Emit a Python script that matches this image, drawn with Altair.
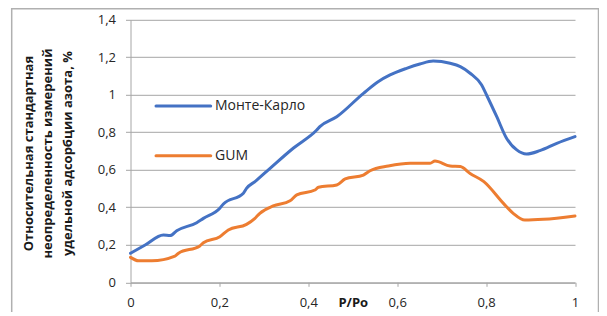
import altair as alt
import pandas as pd

# ---- data ----
mc_x = [0, 0.033, 0.074, 0.089, 0.104, 0.149, 0.164, 0.201, 0.209, 0.254, 0.261, 0.28,
        0.314, 0.366, 0.419, 0.426, 0.464, 0.524, 0.557, 0.584, 0.621, 0.651, 0.681,
        0.719, 0.742, 0.764, 0.79, 0.801, 0.824, 0.846, 0.869, 0.891, 0.921, 0.959, 1.0]
mc_y = [0.155, 0.199, 0.252, 0.249, 0.275, 0.318, 0.341, 0.395, 0.418, 0.475, 0.501, 0.537,
        0.608, 0.715, 0.812, 0.83, 0.883, 1.008, 1.07, 1.106, 1.141, 1.164, 1.18,
        1.168, 1.15, 1.115, 1.052, 0.999, 0.883, 0.768, 0.706, 0.684, 0.702, 0.741, 0.777]

gum_x = [0, 0.018, 0.048, 0.1, 0.108, 0.156, 0.164, 0.201, 0.22, 0.261, 0.28, 0.291,
         0.321, 0.359, 0.374, 0.415, 0.423, 0.464, 0.483, 0.524, 0.539, 0.58, 0.629,
         0.674, 0.685, 0.719, 0.742, 0.764, 0.795, 0.839, 0.861, 0.887, 0.929, 1.0]
gum_y = [0.133, 0.115, 0.115, 0.14, 0.155, 0.194, 0.211, 0.243, 0.279, 0.309, 0.341, 0.368,
         0.407, 0.435, 0.466, 0.492, 0.507, 0.519, 0.551, 0.572, 0.595, 0.62, 0.635,
         0.635, 0.647, 0.62, 0.617, 0.58, 0.537, 0.421, 0.368, 0.332, 0.336, 0.354]

series_names = ["Монте-Карло", "GUM"]
series_colors = ["#4472C4", "#ED7D31"]
y_ticks = [0, 0.2, 0.4, 0.6, 0.8, 1.0, 1.2, 1.4]
x_ticks = [0, 0.2, 0.4, 0.6, 0.8, 1.0]
y_title = ["Относительная стандартная", "неопределенность измерений",
           "удельной адсорбции азота, %"]
x_title = "P/Po"

rows = []
for xv, yv in zip(mc_x, mc_y):
    rows.append({"x": xv, "y": yv, "series": series_names[0]})
for xv, yv in zip(gum_x, gum_y):
    rows.append({"x": xv, "y": yv, "series": series_names[1]})
df = pd.DataFrame(rows)

FONT = "Open Sans"
W, H = 444.5, 262.5
GRID = "#a6a6a6"
comma_fmt = "replace(format(datum.value, '.1~f'), '.', ',')"

x_enc = alt.X(
    "x:Q",
    scale=alt.Scale(domain=[0, 1], nice=False, zero=False),
    axis=alt.Axis(values=x_ticks, grid=False, labelExpr=comma_fmt, title=x_title,
                  tickSize=4, labelPadding=10, titleY=24.5, titleBaseline="alphabetic",
                  titleFontWeight="bold", titleFontSize=13, labelFontSize=13,
                  labelFlush=False),
)
y_enc = alt.Y(
    "y:Q",
    scale=alt.Scale(domain=[0, 1.4], nice=False),
    axis=alt.Axis(values=y_ticks, grid=True, labelExpr=comma_fmt, title=y_title,
                  tickSize=5, labelPadding=10, titleFontWeight="bold", titleFontSize=13,
                  titleLineHeight=19.5, titleBaseline="middle", titleAngle=270,
                  titleX=-102.5, titleY=H / 2 + 2, labelFontSize=13),
)
color_enc = alt.Color("series:N", scale=alt.Scale(domain=series_names, range=series_colors),
                      legend=None)

lines = alt.Chart(df).mark_line(strokeWidth=3, interpolate="monotone", strokeCap="round",
                                strokeJoin="round").encode(
    x=x_enc, y=y_enc, color=color_enc, order=alt.Order("x:Q"))

frame = alt.Chart(pd.DataFrame({"a": [0]})).mark_rect(
    filled=False, stroke="#b0b0b0", strokeWidth=1.5).encode(
    x=alt.value(-118.8), x2=alt.value(468), y=alt.value(-11), y2=alt.value(300))

layers = [frame, lines]
legend_y = [86.2, 135.9]
for name, col, ly in zip(series_names, series_colors, legend_y):
    ldf = pd.DataFrame({"name": [name]})
    layers.append(alt.Chart(ldf).mark_rule(color=col, strokeWidth=3, strokeCap="round").encode(
        x=alt.value(25.5), x2=alt.value(80.2), y=alt.value(ly)))
    layers.append(alt.Chart(ldf).mark_text(align="left", baseline="middle", fontSize=14,
                                           font=FONT, color="#262626").encode(
        x=alt.value(84.5), y=alt.value(ly), text="name:N"))

chart = alt.layer(*layers).properties(
    width=W, height=H,
    autosize=alt.AutoSizeParams(type="none"),
    padding={"left": 122.5, "top": 11.8, "right": 24, "bottom": 29.7},
).configure_view(stroke=None).configure_axis(
    domainColor=GRID, tickColor=GRID, gridColor=GRID, domainWidth=1, tickWidth=1,
    gridWidth=1, labelFont=FONT, titleFont=FONT, labelColor="#262626", titleColor="#1a1a1a",
)

chart.save("out.html", embed_options={"renderer": "svg", "actions": False})
